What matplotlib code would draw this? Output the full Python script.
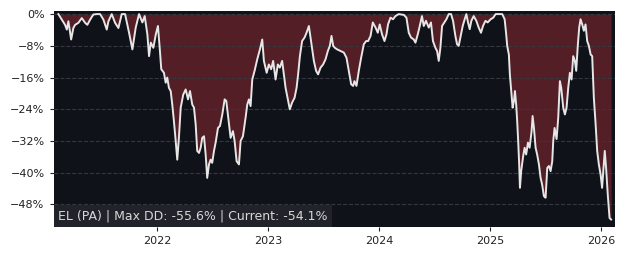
from datetime import datetime, timedelta

import matplotlib
matplotlib.use("Agg")
import matplotlib.pyplot as plt
import matplotlib.dates as mdates
from matplotlib.ticker import FuncFormatter, MultipleLocator


# weekly-ish drawdown readings, x as fractional year
years = [
    2021.108, 2021.139, 2021.168, 2021.184, 2021.198, 2021.214, 2021.223, 2021.243, 2021.259, 2021.288,
    2021.319, 2021.349, 2021.369, 2021.394, 2021.423, 2021.454, 2021.484, 2021.514, 2021.544, 2021.559,
    2021.589, 2021.619, 2021.649, 2021.679, 2021.709,
    2021.745, 2021.775, 2021.805, 2021.835, 2021.865, 2021.886, 2021.910, 2021.925, 2021.941, 2021.964,
    2021.986, 2022.006, 2022.024, 2022.036, 2022.060, 2022.076, 2022.090, 2022.105, 2022.121, 2022.135,
    2022.150, 2022.166, 2022.180, 2022.195, 2022.211, 2022.234, 2022.256, 2022.277, 2022.295, 2022.315,
    2022.331, 2022.346, 2022.360, 2022.376, 2022.391, 2022.405, 2022.421, 2022.436, 2022.450, 2022.466,
    2022.481, 2022.495, 2022.511, 2022.526, 2022.547, 2022.565, 2022.586, 2022.607, 2022.622, 2022.640,
    2022.661, 2022.682, 2022.697, 2022.715, 2022.736, 2022.751, 2022.772, 2022.796, 2022.811, 2022.826,
    2022.841, 2022.856, 2022.877, 2022.901, 2022.925, 2022.946, 2022.961,
    2022.986, 2023.006, 2023.027, 2023.045, 2023.067, 2023.087, 2023.105, 2023.126, 2023.141, 2023.157,
    2023.177, 2023.195, 2023.216, 2023.238, 2023.256, 2023.270, 2023.286, 2023.306, 2023.328, 2023.346,
    2023.367, 2023.382, 2023.396, 2023.412, 2023.432, 2023.450, 2023.472, 2023.495, 2023.517, 2023.538,
    2023.556, 2023.571, 2023.586, 2023.601,
    2023.622, 2023.652, 2023.682, 2023.706, 2023.727, 2023.748, 2023.766, 2023.778, 2023.796, 2023.817,
    2023.838, 2023.862, 2023.883, 2023.901, 2023.923, 2023.943, 2023.968, 2023.988, 2024.006, 2024.027,
    2024.049, 2024.067, 2024.081, 2024.103, 2024.126, 2024.148, 2024.177, 2024.223,
    2024.247, 2024.268, 2024.288, 2024.313, 2024.328, 2024.349, 2024.367, 2024.387, 2024.403, 2024.423,
    2024.448, 2024.468, 2024.486, 2024.508, 2024.523, 2024.538, 2024.553, 2024.568, 2024.589, 2024.607,
    2024.628, 2024.649, 2024.667, 2024.688, 2024.703, 2024.718, 2024.733, 2024.754, 2024.772, 2024.787,
    2024.802, 2024.817, 2024.832, 2024.853,
    2024.877, 2024.898, 2024.919, 2024.937, 2024.959, 2024.979, 2025.004, 2025.027, 2025.049, 2025.078,
    2025.108, 2025.130, 2025.144, 2025.153, 2025.168, 2025.177, 2025.189, 2025.202, 2025.214, 2025.223,
    2025.234, 2025.243, 2025.252, 2025.261, 2025.268, 2025.279, 2025.297, 2025.310, 2025.324, 2025.340,
    2025.355, 2025.373, 2025.382, 2025.394, 2025.409, 2025.423, 2025.439, 2025.454, 2025.468, 2025.484,
    2025.499,
    2025.514, 2025.529, 2025.544, 2025.559, 2025.568, 2025.580, 2025.598, 2025.613, 2025.628, 2025.640,
    2025.658, 2025.673, 2025.688, 2025.703, 2025.718, 2025.733, 2025.748, 2025.763, 2025.775, 2025.790,
    2025.802, 2025.814, 2025.829, 2025.844, 2025.859, 2025.874, 2025.889, 2025.905, 2025.919, 2025.934,
    2025.950, 2025.964, 2025.979, 2025.995, 2026.009, 2026.024, 2026.033, 2026.045, 2026.060, 2026.076,
    2026.090,
]

drawdown = [
    0.0, -1.4, -2.7, -3.9, -1.8, -4.8, -6.4, -3.5, -2.7, -2.2,
    -1.0, -2.2, -2.7, -1.4, -0.1, 0.0, 0.0, -1.4, -3.9, -1.8,
    0.0, -2.2, -3.5, 0.0, 0.0,
    -4.7, -8.9, -3.4, 0.0, -2.1, -0.5, -5.1, -10.6, -7.2, -8.5,
    -5.1, -3.0, -9.3, -13.9, -14.8, -17.3, -16.0, -18.6, -19.4, -22.8,
    -27.0, -32.0, -36.7, -31.2, -23.6, -20.3, -19.0, -21.5, -19.4, -22.8,
    -23.6, -27.8, -34.5, -35.0, -33.7, -31.2, -30.8, -35.4, -41.3, -37.9,
    -36.7, -37.5, -34.5, -32.4, -28.7, -28.2, -25.3, -21.5, -21.9, -26.1,
    -31.2, -29.5, -32.0, -37.1, -37.9, -32.0, -30.8, -26.1, -22.8, -21.5,
    -23.2, -16.5, -14.3, -11.4, -8.9, -6.4, -11.8,
    -14.8, -12.7, -13.9, -11.8, -16.5, -12.7, -13.5, -11.8, -15.2, -18.6,
    -21.5, -24.0, -22.3, -21.1, -18.6, -15.2, -10.6, -6.8, -5.9, -4.7,
    -3.0, -5.9, -8.5, -11.8, -14.3, -15.2, -13.5, -12.7, -11.4, -9.3,
    -8.0, -5.5, -8.0, -8.5,
    -8.9, -9.3, -9.7, -11.0, -14.3, -17.7, -18.1, -16.9, -18.1, -14.3,
    -11.0, -7.6, -6.8, -6.8, -5.5, -2.1, -3.4, -4.7, -2.6, -5.1,
    -6.8, -5.1, -2.6, -0.9, -1.3, -0.5, 0.0, -0.2,
    -0.9, -4.7, -5.9, -6.4, -7.2, -5.1, -3.0, -0.5, -3.0, -1.7,
    -3.4, -2.1, -6.8, -8.5, -9.3, -11.8, -8.5, -3.0, -2.1, -1.3,
    0.0, 0.0, -1.7, -5.5, -7.6, -8.0, -5.9, -3.0, -1.3, 0.0,
    -2.1, -3.8, -1.7, -0.5,
    -1.7, -3.4, -4.7, -3.0, -1.7, -2.1, -1.3, -0.9, 0.0, 0.0,
    0.0, -1.3, -5.1, -8.0, -10.2, -15.2, -19.4, -23.6, -21.9, -19.4,
    -22.8, -27.0, -32.0, -37.9, -43.8, -39.6, -35.8, -33.7, -35.4, -32.4,
    -33.7, -29.5, -25.7, -28.7, -33.7, -35.4, -37.9, -41.3, -43.0, -45.9,
    -46.3,
    -38.8, -38.3, -39.6, -37.1, -32.0, -28.7, -31.5, -26.1, -16.9, -18.6,
    -23.6, -25.3, -23.6, -18.6, -14.8, -16.5, -10.6, -11.8, -14.3, -7.6,
    -3.4, -1.3, -2.6, -4.2, -2.6, -6.8, -8.0, -10.2, -10.6, -21.1,
    -27.8, -34.5, -37.9, -40.5, -43.8, -37.9, -34.5, -38.8, -45.5, -51.4,
    -51.8,
]

ticker_name = "EL (PA)"
max_dd = -55.6
current_dd = -54.1


def to_date(y):
    base = datetime(int(y), 1, 1)
    return base + timedelta(days=(y - int(y)) * 365.25)


dates = [to_date(y) for y in years]

fig = plt.figure(figsize=(6.26, 2.57), dpi=100)
ax = fig.add_axes([0.0855, 0.118, 0.8965, 0.841])
ax.set_facecolor("#0f1218")

ax.fill_between(dates, drawdown, 0, color="#541e27", linewidth=0)
ax.plot(dates, drawdown, color="#e6e6e6", linewidth=1.4)

ax.set_xlim(dates[0] - timedelta(days=16), dates[-1] + timedelta(days=12))
ax.set_ylim(-53.6, 0.9)

ax.yaxis.set_major_locator(MultipleLocator(8))
ax.yaxis.set_major_formatter(FuncFormatter(lambda v, p: ("%d%%" % round(v)).replace("-", "\u2212")))
ax.xaxis.set_major_locator(mdates.YearLocator())
ax.xaxis.set_major_formatter(mdates.DateFormatter("%Y"))

ax.grid(axis="y", color="#34373d", linestyle="--", linewidth=0.8)
ax.grid(axis="x", visible=False)
for s in ax.spines.values():
    s.set_visible(False)
ax.tick_params(labelsize=8, colors="#222222", length=3)

ax.text(0.008, 0.018, "%s | Max DD: %.1f%% | Current: %.1f%%" % (ticker_name, max_dd, current_dd),
        transform=ax.transAxes, fontsize=9, color="#d8d8d8", va="bottom", ha="left",
        bbox=dict(boxstyle="square,pad=0.35", fc="#23262c", ec="none", alpha=0.9))

fig.savefig("out.png", dpi=100)
